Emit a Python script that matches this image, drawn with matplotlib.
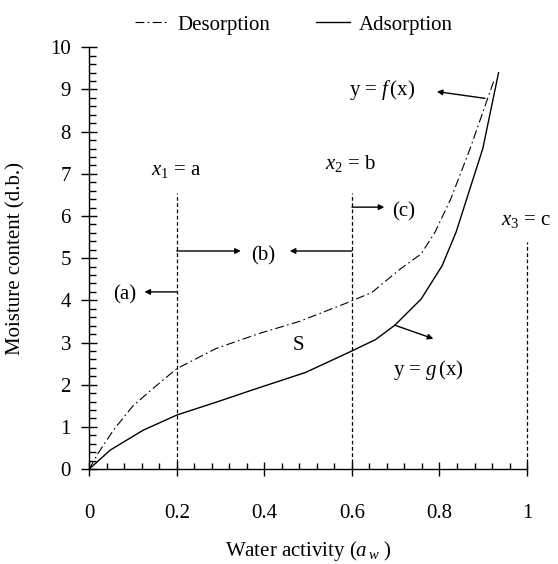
import matplotlib
matplotlib.use("Agg")
import matplotlib.pyplot as plt
from matplotlib.ticker import MultipleLocator

# ---- data ----
aw_ads = [0, 0.048, 0.123, 0.2, 0.3, 0.374, 0.494, 0.6, 0.654, 0.698, 0.758, 0.806, 0.838, 0.862, 0.899, 0.935]
mc_ads = [0, 0.45, 0.92, 1.28, 1.62, 1.88, 2.29, 2.80, 3.07, 3.41, 4.03, 4.82, 5.62, 6.40, 7.60, 9.40]

aw_des = [0, 0.02, 0.055, 0.1, 0.15, 0.2, 0.29, 0.39, 0.48, 0.596, 0.646, 0.71, 0.758, 0.79, 0.826, 0.87, 0.926]
mc_des = [0, 0.37, 0.92, 1.50, 1.95, 2.38, 2.86, 3.22, 3.50, 3.97, 4.19, 4.74, 5.10, 5.62, 6.41, 7.60, 9.26]

x_lines = [0.2, 0.6, 1.0]
x_line_tops = [6.54, 6.54, 5.38]
x_line_labels = ["$x_{\\mathit{1}}$ = a", "$x_{\\mathit{2}}$ = b", "$x_{\\mathit{3}}$ = c"]
x_label_pos = [(0.198, 7.08), (0.598, 7.24), (0.998, 5.90)]

xticks = [0, 0.2, 0.4, 0.6, 0.8, 1]
xticklabels = ["0", "0.2", "0.4", "0.6", "0.8", "1"]
yticks = list(range(0, 11))

plt.rcParams['font.family'] = ['Liberation Serif', 'DejaVu Serif']
plt.rcParams['mathtext.fontset'] = 'custom'
plt.rcParams['mathtext.rm'] = 'Liberation Serif'
plt.rcParams['mathtext.it'] = 'Liberation Serif:italic'
plt.rcParams['font.size'] = 15

fig = plt.figure(figsize=(5.58, 5.64), dpi=100)
ax = fig.add_axes([0.160, 0.1684, 0.7845, 0.7477])

des_line, = ax.plot(aw_des, mc_des, color='k', lw=0.8, dashes=(8, 3, 1.5, 3), label='Desorption')
ads_line, = ax.plot(aw_ads, mc_ads, color='k', lw=1.0, label='Adsorption')

for xv, top in zip(x_lines, x_line_tops):
    ax.plot([xv, xv], [0, top], color='k', lw=0.9, dashes=(3, 2), clip_on=False)
for lab, (tx, ty) in zip(x_line_labels, x_label_pos):
    ax.text(tx, ty, lab, ha='center', va='center', fontsize=15)

def arrow(tail, head):
    ax.annotate('', xy=head, xytext=tail,
                arrowprops=dict(arrowstyle='-|>', color='k', lw=1.0,
                                mutation_scale=8, shrinkA=0, shrinkB=0))

# region arrows
arrow((0.2, 4.20), (0.126, 4.20))
arrow((0.2, 5.17), (0.346, 5.17))
arrow((0.6, 5.17), (0.458, 5.17))
arrow((0.6, 6.21), (0.674, 6.21))
# curve arrows
arrow((0.904, 8.79), (0.794, 8.95))
arrow((0.698, 3.41), (0.786, 3.09))

ax.text(0.082, 4.12, "(a)", ha='center', va='center')
ax.text(0.398, 5.06, "(b)", ha='center', va='center')
ax.text(0.718, 6.10, "(c)", ha='center', va='center')
ax.text(0.478, 2.94, "S", ha='center', va='center')
ax.text(0.67, 8.99, "y = $f\\,$(x)", ha='center', va='center')
ax.text(0.774, 2.36, "y = $g\\,$(x)", ha='center', va='center')

ax.set_xlim(0, 1)
ax.set_ylim(0, 10)
ax.spines['top'].set_visible(False)
ax.spines['right'].set_visible(False)
for s in ('left', 'bottom'):
    ax.spines[s].set_linewidth(1.0)
ax.set_xticks(xticks)
ax.set_xticklabels(xticklabels)
ax.set_yticks(yticks)
ax.xaxis.set_minor_locator(MultipleLocator(0.04))
ax.yaxis.set_minor_locator(MultipleLocator(0.2))
ax.tick_params(axis='x', which='major', direction='inout', length=10, width=1, pad=20)
ax.tick_params(axis='y', which='major', direction='inout', length=11, width=1, pad=7.7)
ax.tick_params(axis='x', which='minor', direction='in', length=4, width=1)
ax.tick_params(axis='y', which='minor', direction='in', length=5.3, width=1)

ax.set_xlabel("Water activity ($a_{\\,w}$ )")
ax.set_ylabel("Moisture content (d.b.)")
ax.xaxis.set_label_coords(0.5, -0.166)
ax.yaxis.set_label_coords(-0.145, 0.5)

fig.legend(handles=[des_line, ads_line], loc='center', bbox_to_anchor=(0.527, 0.956),
           ncol=2, frameon=False, handlelength=1.6, handletextpad=0.45,
           columnspacing=2.2, fontsize=15)

fig.savefig("out.png", dpi=100)
